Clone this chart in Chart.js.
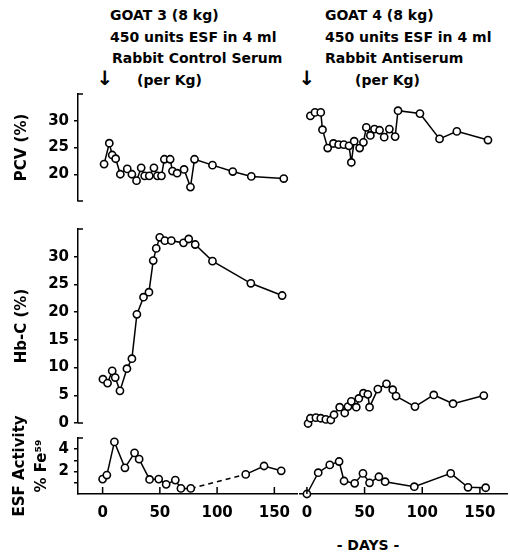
<!DOCTYPE html>
<html>
<head>
<meta charset="utf-8">
<script src="https://cdn.jsdelivr.net/npm/chart.js@4.4.0/dist/chart.umd.min.js"></script>
<style>
  body { margin: 0; background: #fff; }
  #wrap { position: relative; width: 510px; height: 553px; font-family: 'DejaVu Sans', sans-serif; font-weight: bold; color: #000; }
  canvas { position: absolute; }
  .t { position: absolute; font-size: 14px; line-height: 1; white-space: nowrap; }
  .arrow { position: absolute; font-size: 20px; line-height: 1; transform: translateX(-50%); }
</style>
</head>
<body>
<div id="wrap">
  <div class="t" style="left:110px;top:8px">GOAT 3 (8 kg)</div>
  <div class="t" style="left:110px;top:30px">450 units ESF in 4 ml</div>
  <div class="t" style="left:112px;top:51px">Rabbit Control Serum</div>
  <div class="t" style="left:137px;top:73px">(per Kg)</div>
  <div class="t" style="left:325px;top:8px">GOAT 4 (8 kg)</div>
  <div class="t" style="left:325px;top:30px">450 units ESF in 4 ml</div>
  <div class="t" style="left:325px;top:51px">Rabbit Antiserum</div>
  <div class="t" style="left:355px;top:73px">(per Kg)</div>
  <div class="arrow" style="left:105px;top:68px">↓</div>
  <div class="arrow" style="left:307px;top:68px">↓</div>
  <div class="t" style="left:368px;top:538px;transform:translateX(-50%)">- DAYS -</div>

  <canvas id="pcv3" width="300" height="135" style="left:0;top:80px"></canvas>
  <canvas id="pcv4" width="220" height="135" style="left:290px;top:80px"></canvas>
  <canvas id="hb3" width="300" height="222" style="left:0;top:215px"></canvas>
  <canvas id="hb4" width="220" height="222" style="left:290px;top:215px"></canvas>
  <canvas id="esf3" width="300" height="126" style="left:0;top:398px"></canvas>
  <canvas id="esf4" width="220" height="126" style="left:290px;top:398px"></canvas>
</div>
<script>
// tick labels
const DAY_TICKS = [0, 50, 100, 150];
const PCV_TICKS = [20, 25, 30];
const HB_TICKS = [0, 5, 10, 15, 20, 25, 30];
const ESF_TICKS = [1, 2, 3, 4];
const ESF_LABELLED = [2, 4];

// goat 3 - rabbit control serum
const PCV3_DAYS = [1, 5.5, 8, 11, 15, 21, 25, 29, 33, 36, 40, 44, 47, 50.5, 53, 58, 60, 64, 70, 75.5, 79, 94.5, 112, 128, 156];
const PCV3_VALUES = [21.9, 25.8, 23.6, 22.9, 20, 21, 20, 18.8, 21.2, 19.7, 19.7, 21.2, 19.7, 19.7, 22.8, 22.8, 20.6, 20.2, 20.9, 17.6, 22.8, 21.7, 20.5, 19.6, 19.2];
const HB3_DAYS = [0, 4, 8, 10.6, 14.7, 20.7, 25, 29.3, 35, 39.7, 43.4, 46, 49, 53.4, 59, 69.5, 74, 79.6, 94.5, 127.6, 154.6];
const HB3_VALUES = [7.9, 7.2, 9.4, 8.2, 5.8, 9.8, 11.6, 19.6, 22.7, 23.6, 29.3, 31.5, 33.5, 32.9, 32.9, 32.5, 33.2, 32.2, 29.2, 25.2, 23];
const ESF3_DAYS = [0, 3.7, 10.3, 19.5, 27.9, 31.9, 41, 49, 55.5, 63.5, 68.4, 77, 125, 141, 156];
const ESF3_VALUES = [1.33, 1.69, 4.65, 2.34, 3.67, 3.11, 1.3, 1.33, 0.86, 1.24, 0.5, 0.5, 1.75, 2.5, 2.07];
const ESF3_DASH_FROM = 11;

// goat 4 - rabbit antiserum
const PCV4_DAYS = [3, 7, 12, 13.5, 18, 23, 27.5, 32, 36.5, 38.5, 41, 45.7, 49, 51.5, 55, 58.6, 63, 67, 71.5, 76.5, 79, 98, 115, 130, 157];
const PCV4_VALUES = [30.5, 31.1, 31.1, 28.1, 24.9, 25.7, 25.5, 25.5, 25.3, 22.4, 26.1, 24.9, 25.9, 28.5, 27.1, 28.2, 28, 26.8, 28.2, 26.9, 31.4, 30.9, 26.5, 27.8, 26.3];
const HB4_DAYS = [1, 3, 7.8, 12, 16.4, 20.7, 23.5, 28.4, 32.8, 35.6, 38.5, 42.8, 45, 49, 52.8, 54.3, 61.5, 69, 74.4, 77.3, 93.7, 110, 126.7, 153.4];
const HB4_VALUES = [0.6, 1.5, 1.6, 1.5, 1.3, 1.2, 2.1, 3.4, 2.4, 3.5, 4.4, 3.4, 4.9, 5.8, 5.6, 3.4, 6.5, 7.4, 6.4, 5.3, 3.5, 5.5, 4, 5.4];
const ESF4_DAYS = [0, 9.8, 19.8, 27.9, 32.2, 41.4, 48.6, 54.3, 62.4, 67.8, 93.1, 124.7, 139.7, 155];
const ESF4_VALUES = [0, 1.9, 2.6, 2.9, 1.16, 0.95, 1.84, 1.0, 1.54, 1.1, 0.65, 1.84, 0.6, 0.56];

Chart.defaults.font.family = "'DejaVu Sans', sans-serif";
Chart.defaults.font.weight = 'bold';
Chart.defaults.color = '#000';

// short arms pointing into the plot at the ends of the y axis
const axisCaps = {
  id: 'axisCaps',
  afterDraw(chart, args, opts) {
    if (!opts.ends) return;
    const { ctx, chartArea } = chart;
    const y = chart.scales.y;
    ctx.save();
    ctx.strokeStyle = '#000';
    ctx.lineWidth = 1.5;
    opts.ends.forEach(v => {
      const py = y.getPixelForValue(v);
      ctx.beginPath();
      ctx.moveTo(chartArea.left, py);
      ctx.lineTo(chartArea.left + 5, py);
      ctx.stroke();
    });
    ctx.restore();
  }
};

// day ticks drawn upward from the x axis
const innerTicks = {
  id: 'innerTicks',
  afterDraw(chart, args, opts) {
    if (!opts.on) return;
    const { ctx, chartArea } = chart;
    const x = chart.scales.x;
    ctx.save();
    ctx.strokeStyle = '#000';
    ctx.lineWidth = 1.5;
    x.ticks.forEach(t => {
      const px = x.getPixelForValue(t.value);
      ctx.beginPath();
      ctx.moveTo(px, chartArea.bottom);
      ctx.lineTo(px, chartArea.bottom - 7);
      ctx.stroke();
    });
    ctx.restore();
  }
};

function panel(id, days, values, o) {
  const left = o.side === 'left';
  const ds = {
    data: days.map((d, i) => ({ x: d, y: values[i] })),
    borderColor: '#000',
    borderWidth: 1.5,
    pointRadius: 3.6,
    pointBorderWidth: 1.6,
    pointBackgroundColor: '#fff',
    pointBorderColor: '#000',
    tension: 0,
    clip: false
  };
  if (o.dashFrom != null) {
    ds.segment = { borderDash: c => c.p0DataIndex === o.dashFrom ? [5, 4] : undefined };
  }
  return new Chart(document.getElementById(id), {
    type: 'line',
    data: { datasets: [ds] },
    options: {
      responsive: false,
      animation: false,
      devicePixelRatio: 1,
      layout: { padding: o.pad, autoPadding: false },
      plugins: {
        legend: { display: false },
        tooltip: { enabled: false },
        axisCaps: { ends: left ? o.caps : null },
        innerTicks: { on: !!o.showX }
      },
      scales: {
        x: {
          type: 'linear',
          min: left ? -21.5 : -6,
          max: left ? 170 : 173.5,
          display: !!o.showX,
          afterBuildTicks: s => { s.ticks = DAY_TICKS.map(v => ({ value: v })); },
          afterFit: s => { s.height = o.showX ? 30 : 0; },
          grid: { display: false, drawTicks: false },
          border: { display: true, color: '#000', width: 1.5 },
          ticks: { padding: 10, font: { size: 15 }, maxRotation: 0, autoSkip: false }
        },
        y: {
          type: 'linear',
          min: o.yMin,
          max: o.yMax,
          display: left,
          afterBuildTicks: s => { s.ticks = o.yTicks.map(v => ({ value: v })); },
          afterFit: s => { s.width = left ? 78 : 0; },
          grid: { drawOnChartArea: false, tickLength: 4, color: '#000', lineWidth: 1.5 },
          border: { display: true, color: '#000', width: 1.5 },
          ticks: {
            padding: 5,
            autoSkip: false,
            font: { size: 15 },
            callback: v => (o.yLabelled ? (o.yLabelled.includes(v) ? v : '') : v)
          },
          title: {
            display: true,
            text: o.title || '',
            font: { size: 15, lineHeight: o.titleLH || 1.2 },
            padding: { top: o.titlePad || 13 }
          }
        }
      }
    },
    plugins: [axisCaps, innerTicks]
  });
}

const PCV = { yMin: 15, yMax: 35, yTicks: PCV_TICKS, caps: [15, 35], title: 'PCV (%)' };
const HB = { yMin: 0, yMax: 35, yTicks: HB_TICKS, caps: [0, 35], title: 'Hb-C (%)' };
const ESF = { yMin: 0, yMax: 5, yTicks: ESF_TICKS, yLabelled: ESF_LABELLED, caps: [5],
  title: ['ESF Activity', '% Fe⁵⁹'], titleLH: 22 / 15, titlePad: 9, showX: true };

panel('pcv3', PCV3_DAYS, PCV3_VALUES, { ...PCV, side: 'left', pad: { top: 10, bottom: 10, left: 0, right: 0 } });
panel('pcv4', PCV4_DAYS, PCV4_VALUES, { ...PCV, side: 'right', pad: { top: 10, bottom: 10, left: 10, right: 3 } });
panel('hb3', HB3_DAYS, HB3_VALUES, { ...HB, side: 'left', pad: { top: 8, bottom: 10, left: 0, right: 0 } });
panel('hb4', HB4_DAYS, HB4_VALUES, { ...HB, side: 'right', pad: { top: 8, bottom: 10, left: 10, right: 3 } });
panel('esf3', ESF3_DAYS, ESF3_VALUES, { ...ESF, side: 'left', dashFrom: ESF3_DASH_FROM, pad: { top: 40, bottom: 0, left: 0, right: 0 } });
panel('esf4', ESF4_DAYS, ESF4_VALUES, { ...ESF, side: 'right', pad: { top: 40, bottom: 0, left: 10, right: 3 } });
</script>
</body>
</html>
